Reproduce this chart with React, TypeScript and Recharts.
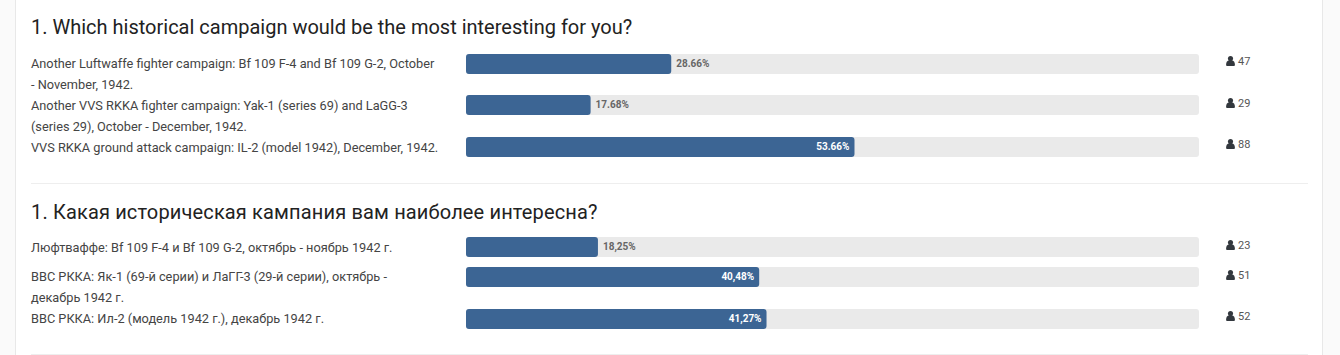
import React from 'react';
import { BarChart, Bar, XAxis, YAxis, LabelList } from 'recharts';

const titleEn = '1. Which historical campaign would be the most interesting for you?';
const optionsEn = [
  'Another Luftwaffe fighter campaign: Bf 109 F-4 and Bf 109 G-2, October\n- November, 1942.',
  'Another VVS RKKA fighter campaign: Yak-1 (series 69) and LaGG-3\n(series 29), October - December, 1942.',
  'VVS RKKA ground attack campaign: IL-2 (model 1942), December, 1942.',
];
const percentEn = [28.66, 17.68, 53.66];
const percentLabelsEn = ['28.66%', '17.68%', '53.66%'];
const votesEn = [47, 29, 88];

const titleRu = '1. Какая историческая кампания вам наиболее интересна?';
const optionsRu = [
  'Люфтваффе: Bf 109 F-4 и Bf 109 G-2, октябрь - ноябрь 1942 г.',
  'ВВС РККА: Як-1 (69-й серии) и ЛаГГ-3 (29-й серии), октябрь -\nдекабрь 1942 г.',
  'ВВС РККА: Ил-2 (модель 1942 г.), декабрь 1942 г.',
];
const percentRu = [18.25, 40.48, 41.27];
const percentLabelsRu = ['18,25%', '40,48%', '41,27%'];
const votesRu = [23, 51, 52];

const BAR_COLOR = '#3c6594';
const TRACK_COLOR = '#eaeaea';
const font = 'Roboto, sans-serif';

function UserIcon() {
  return (
    <svg width={9} height={10} viewBox="0 0 8 9" style={{ position: 'absolute', left: 0, top: 1 }}>
      <circle cx={4} cy={2.3} r={2.3} fill="#33383e" />
      <path d="M0 8.2 C0 5.6 1 4.2 2.2 4 L5.8 4 C7 4.2 8 5.6 8 8.2 C8 8.8 7.6 9 7 9 L1 9 C0.4 9 0 8.8 0 8.2 Z" fill="#33383e" />
    </svg>
  );
}

type RowProps = {
  top: number;
  textTop: number;
  voteTop: number;
  option: string;
  percent: number;
  percentLabel: string;
  votes: number;
};

function PollRow({ top, textTop, voteTop, option, percent, percentLabel, votes }: RowProps) {
  // the site sizes the bar by the whole percent, only the label keeps the decimals
  const data = [{ name: option, width: Math.floor(percent), label: percentLabel }];
  const inside = percent > 30;
  return (
    <>
      <div
        style={{
          position: 'absolute', left: 31, top: textTop, whiteSpace: 'pre-line',
          fontFamily: font, fontSize: 12.75, lineHeight: '21px', color: '#444',
        }}
      >
        {option}
      </div>
      <div style={{ position: 'absolute', left: 466, top: top - 1 }}>
        <BarChart width={733} height={22} layout="vertical" data={data} margin={{ top: 0, right: 0, bottom: 0, left: 0 }}>
          <XAxis type="number" domain={[0, 100]} hide />
          <YAxis type="category" dataKey="name" hide />
          <Bar
            dataKey="width"
            fill={BAR_COLOR}
            barSize={20}
            radius={3}
            background={{ fill: TRACK_COLOR, radius: 3 }}
            isAnimationActive={false}
          >
            <LabelList
              dataKey="label"
              position={inside ? 'insideRight' : 'right'}
              offset={5}
              dy={-1}
              fill={inside ? '#fff' : '#666'}
              fontFamily={font}
              fontSize={10}
              fontWeight={700}
            />
          </Bar>
        </BarChart>
      </div>
      <div
        style={{
          position: 'absolute', left: 1226, top: voteTop, paddingLeft: 12,
          fontFamily: font, fontSize: 11, lineHeight: '13px', color: '#555',
        }}
      >
        <UserIcon />
        {votes}
      </div>
    </>
  );
}

function Title({ top, spacing, children }: { top: number; spacing?: number; children: string }) {
  return (
    <div
      style={{
        position: 'absolute', left: 31, top, whiteSpace: 'nowrap', letterSpacing: spacing,
        fontFamily: font, fontSize: 20, lineHeight: '28px', color: '#222',
      }}
    >
      {children}
    </div>
  );
}

export default function App() {
  return (
    <div style={{ position: 'absolute', left: 0, top: 0, width: 1340, height: 355, overflow: 'hidden', background: '#fafafa' }}>
      <div
        style={{
          position: 'absolute', left: 15, top: -2, width: 1308, height: 360,
          background: '#fff', border: '1px solid #e8e8e8', boxSizing: 'border-box',
        }}
      />
      <Title top={13}>{titleEn}</Title>
      {[0, 1, 2].map((i) => (
        <PollRow
          key={i}
          top={[54, 95, 137][i]}
          textTop={[53, 95, 137][i]}
          voteTop={[55, 97, 138][i]}
          option={optionsEn[i]}
          percent={percentEn[i]}
          percentLabel={percentLabelsEn[i]}
          votes={votesEn[i]}
        />
      ))}
      <div style={{ position: 'absolute', left: 31, top: 183, width: 1277, height: 1, background: '#eee' }} />
      <Title top={198} spacing={0.15}>{titleRu}</Title>
      {[0, 1, 2].map((i) => (
        <PollRow
          key={i}
          top={[237, 267, 309][i]}
          textTop={[237, 266, 308][i]}
          voteTop={[239, 269, 310][i]}
          option={optionsRu[i]}
          percent={percentRu[i]}
          percentLabel={percentLabelsRu[i]}
          votes={votesRu[i]}
        />
      ))}
      <div style={{ position: 'absolute', left: 31, top: 354, width: 1277, height: 1, background: '#eee' }} />
    </div>
  );
}
